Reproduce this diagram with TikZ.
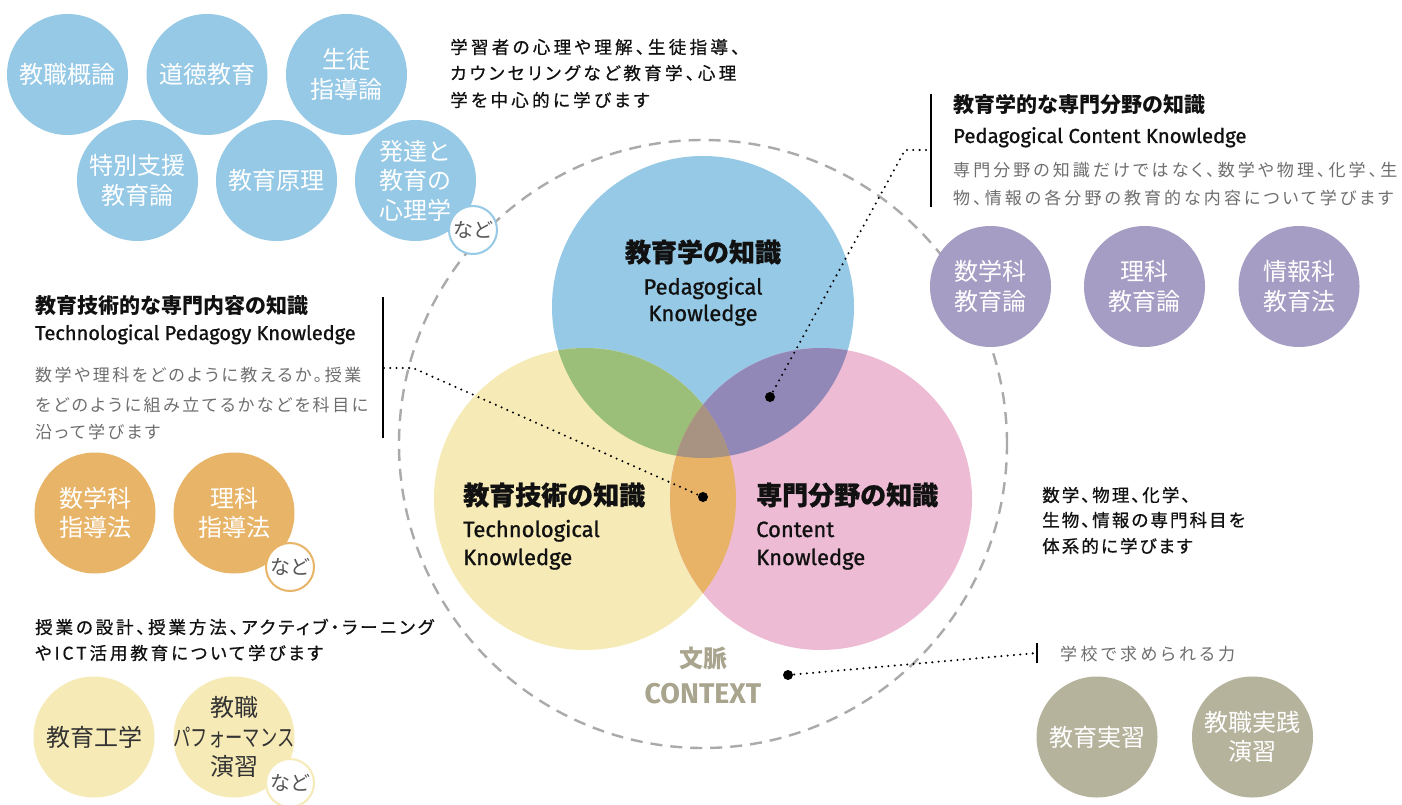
\documentclass[tikz,border=0pt]{standalone}
\usepackage{graphicx}
\usepackage{fontspec}
\setmainfont{Noto Sans CJK JP}
\newfontfamily\fjp{Noto Sans CJK JP}
\newfontfamily\fjpp{Noto Sans CJK JP}[RawFeature=+palt]
\newfontfamily\fen{Fira Sans}
\newfontfamily\fenm{Fira Sans}[FakeBold=1]
\definecolor{cblue}{HTML}{96C9E5}
\definecolor{cyellow}{HTML}{F6EAB6}
\definecolor{cpink}{HTML}{EDBBD4}
\definecolor{cgreen}{HTML}{9BBF79}
\definecolor{cpurpleov}{HTML}{9288B7}
\definecolor{corange}{HTML}{E8B367}
\definecolor{cbrown}{HTML}{A89382}
\definecolor{cpurple}{HTML}{A69DC4}
\definecolor{corangec}{HTML}{E8B468}
\definecolor{cgray}{HTML}{B6B39D}
\definecolor{ctxc}{HTML}{A8A48D}
\definecolor{dashc}{HTML}{AAAAAA}
\definecolor{graytxt}{HTML}{6E6E6E}
\definecolor{ink}{HTML}{111111}
\definecolor{dark}{HTML}{333333}
\definecolor{nadotxt}{HTML}{555555}
\tikzset{
  bc/.style={circle, minimum size=121pt, inner sep=0pt, align=center, text=white, font=\fjp\fontsize{24}{29.5}\selectfont},
  bluec/.style={bc, fill=cblue},
  purc/.style={bc, fill=cpurple},
  orc/.style={bc, fill=corangec},
  yelc/.style={bc, fill=cyellow, text=dark},
  grc/.style={bc, fill=cgray},
  nado/.style={circle, minimum size=48pt, inner sep=0pt, fill=white, draw=#1, line width=2pt, text=nadotxt, font=\fjp\fontsize{20}{20}\selectfont},
  ctxcirc/.style={circle, minimum size=608pt, inner sep=0pt, draw=dashc, line width=2.4pt, dash pattern=on 12pt off 8pt},
  dotn/.style={circle, fill=black, minimum size=10pt, inner sep=0pt},
  dotline/.style={line width=2.3pt, line cap=round, dash pattern=on 0pt off 6.3pt, black},
  barl/.style={line width=1.4pt, black},
  jl/.style={anchor=west, inner sep=0pt},
  topt/.style={jl, text=ink, font=\fjpp\fontsize{17.5}{20}\selectfont\addfontfeatures{LetterSpace=19,FakeBold=0.8}},
  midt/.style={jl, text=ink, font=\fjpp\fontsize{17.5}{20}\selectfont\addfontfeatures{LetterSpace=12,FakeBold=0.8}},
  botlt/.style={jl, text=ink, font=\fjpp\fontsize{17.5}{20}\selectfont\addfontfeatures{LetterSpace=16.5,FakeBold=0.8}},
  grayR/.style={jl, text=graytxt, font=\fjpp\fontsize{17}{20}\selectfont\addfontfeatures{LetterSpace=18}},
  grayL/.style={jl, text=graytxt, font=\fjpp\fontsize{17}{20}\selectfont\addfontfeatures{LetterSpace=15}},
  schoolt/.style={jl, text=graytxt, font=\fjpp\fontsize{17}{20}\selectfont\addfontfeatures{LetterSpace=20}},
  ttl/.style={jl, text=ink, font=\fjp\bfseries\fontsize{21}{24}\selectfont},
  ens/.style={anchor=base west, inner sep=0pt, text=ink, font=\fenm\fontsize{20}{24}\selectfont},
  vttl/.style={inner sep=0pt, text=ink, font=\fjp\bfseries\fontsize{26}{30}\selectfont\addfontfeatures{FakeBold=0.8}},
  ven/.style={inner sep=0pt, text=ink, font=\fenm\fontsize{22}{26}\selectfont},
}
\begin{document}
\begin{tikzpicture}[x=1pt,y=-1pt]
\useasboundingbox (0,0) rectangle (1402,805);
\fill[white] (0,0) rectangle (1402,805);

% context circle
\node[ctxcirc] (ctx) at (703,444) {};

% Venn
\coordinate (B) at (703,307);
\coordinate (Y) at (585,499);
\coordinate (P) at (821,499);
\fill[cblue] (B) circle (151pt);
\fill[cyellow] (Y) circle (151pt);
\fill[cpink] (P) circle (151pt);
\begin{scope}
  \clip (B) circle (151pt);
  \fill[cgreen] (Y) circle (151pt);
  \fill[cpurpleov] (P) circle (151pt);
\end{scope}
\begin{scope}
  \clip (Y) circle (151pt);
  \fill[corange] (P) circle (151pt);
\end{scope}
\begin{scope}
  \clip (B) circle (151pt);
  \clip (Y) circle (151pt);
  \fill[cbrown] (P) circle (151pt);
\end{scope}

% Venn labels
\node[vttl] (vb1) at (703,252) {教育学の知識};
\node[ven, anchor=base] (vb2) at (703,294.5) {Pedagogical};
\node[ven, anchor=base] (vb3) at (703,321) {Knowledge};
\node[vttl, anchor=west] (vy1) at (463,495) {教育技術の知識};
\node[ven, anchor=base west] (vy2) at (463,537) {Technological};
\node[ven, anchor=base west] (vy3) at (463,565) {Knowledge};
\node[vttl, anchor=west] (vp1) at (756,495) {専門分野の知識};
\node[ven, anchor=base west] (vp2) at (756,537) {Content};
\node[ven, anchor=base west] (vp3) at (756,565) {Knowledge};
\node[inner sep=0pt, text=ctxc, font=\fjp\bfseries\fontsize{24}{28}\selectfont] (cx1) at (703,658) {文脈};
\node[inner sep=0pt, anchor=base, text=ctxc, font=\fen\bfseries\fontsize{28.5}{32}\selectfont] (cx2) at (703,703) {CONTEXT};

% top-left blue circles
\node[bluec] (c1) at (67.5,74.5) {教職概論};
\node[bluec] (c2) at (207,74.5) {道徳教育};
\node[bluec] (c3) at (346.5,74.5) {生徒\\指導論};
\node[bluec] (c4) at (137.5,180.5) {特別支援\\教育論};
\node[bluec] (c5) at (276.5,180.5) {教育原理};
\node[bluec] (c6) at (415.5,180.5) {発達と\\教育の\\心理学};
\node[nado=cblue] (n1) at (473,230) {など};

% purple circles
\node[purc] (p1) at (990.5,286.5) {数学科\\教育論};
\node[purc] (p2) at (1144.5,286.5) {理科\\教育論};
\node[purc] (p3) at (1299,286.5) {情報科\\教育法};

% orange circles
\node[orc] (o1) at (95,513) {数学科\\指導法};
\node[orc] (o2) at (234,513) {理科\\指導法};
\node[nado=corangec] (n2) at (290,567) {など};

% yellow circles
\node[yelc] (y1) at (94,737) {教育工学};
\node[yelc] (y2) at (234,737) {};
\node[inner sep=0pt, align=center, text=dark, font=\fjp\fontsize{24}{29.5}\selectfont] (y2t) at (y2.center) {教職\\\scalebox{0.72}[1]{パフォーマンス}\\演習};
\node[nado=cyellow] (n3) at (290,783) {など};

% gray circles
\node[grc] (g1) at (1097,737) {教育実習};
\node[grc] (g2) at (1252.5,737) {教職実践\\演習};

% top text
\node[topt] (tA1) at (450,47) {学習者の心理や理解、生徒指導、};
\node[topt] (tA2) at (450,73) {カウンセリングなど教育学、心理};
\node[topt] (tA3) at (450,100) {学を中心的に学びます};

% right-top block
\coordinate (rb1) at (931,94);
\coordinate (rb2) at (931,207);
\coordinate (rbm) at (931,150);
\draw[barl] (rb1) -- (rb2);
\node[ttl] (tB1) at (953,105) {教育学的な専門分野の知識};
\node[ens, font=\fenm\fontsize{20.3}{24}\selectfont] (tB2) at (953,143) {Pedagogical Content Knowledge};
\node[grayR] (tB3) at (953,170) {専門分野の知識だけではなく、数学や物理、化学、生};
\node[grayR] (tB4) at (953,198) {物、情報の各分野の教育的な内容について学びます};

% left block
\coordinate (lb1) at (383,297);
\coordinate (lb2) at (383,438);
\coordinate (lbm) at (383,368);
\draw[barl] (lb1) -- (lb2);
\node[ttl] (tC1) at (35,306) {教育技術的な専門内容の知識};
\node[ens] (tC2) at (35,340) {Technological Pedagogy Knowledge};
\node[grayL] (tC3) at (35,375) {数学や理科をどのように教えるか。授業};
\node[grayL] (tC4) at (35,405) {をどのように組み立てるかなどを科目に};
\node[grayL] (tC5) at (35,432) {沿って学びます};

% bottom-left text
\node[botlt] (tD1) at (35,627) {授業の設計、授業方法、アクティブ・ラーニング};
\node[botlt] (tD2) at (35,653) {やICT活用教育について学びます};

% right-mid text
\node[midt] (tE1) at (1042,495) {数学、物理、化学、};
\node[midt] (tE2) at (1042,520) {生物、情報の専門科目を};
\node[midt] (tE3) at (1042,546) {体系的に学びます};

% school block
\coordinate (sb1) at (1037,643);
\coordinate (sb2) at (1037,663);
\coordinate (sbm) at (1037,653);
\draw[barl] (sb1) -- (sb2);
\node[schoolt] (tF) at (1060,654) {学校で求められる力};

% dots and dotted connectors
\node[dotn] (d1) at (703,497) {};
\node[dotn] (d2) at (770,397) {};
\node[dotn] (d3) at (788,675) {};
\coordinate (k1) at (413,368);
\coordinate (k2) at (905,150);
\draw[dotline] (d1.center) -- (k1) -- (lbm);
\draw[dotline] (d2.center) -- (k2) -- (rbm);
\draw[dotline] (d3.center) -- (sbm);
\end{tikzpicture}
\end{document}
